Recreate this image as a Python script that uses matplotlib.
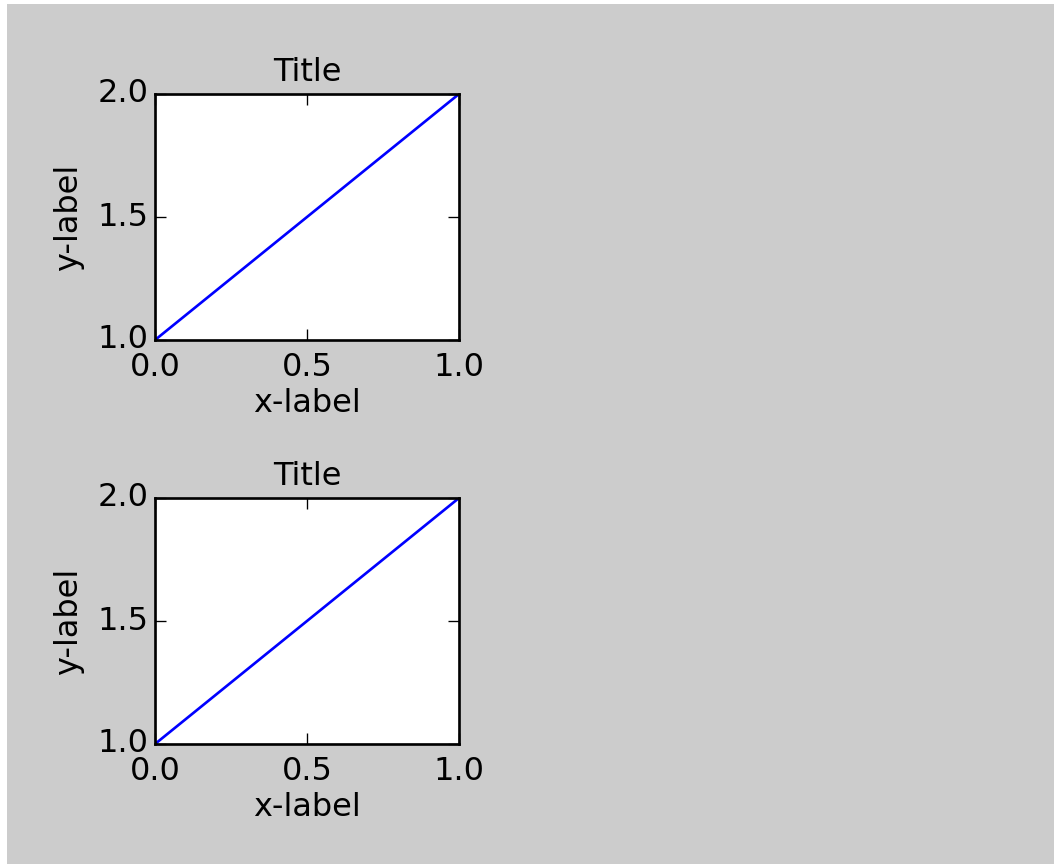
import matplotlib
matplotlib.use("Agg")
import matplotlib.pyplot as plt
from matplotlib.patches import Rectangle

plt.style.use("classic")

x_values = [0.0, 1.0]
y_values = [1.0, 2.0]
x_ticks = [0.0, 0.5, 1.0]
y_ticks = [1.0, 1.5, 2.0]
title_text = "Title"
xlabel_text = "x-label"
ylabel_text = "y-label"

W, H = 1054, 864
DPI = 192
fig = plt.figure(figsize=(W / DPI, H / DPI), dpi=DPI)
fig.patch.set_facecolor("white")
fig.patches.append(Rectangle((7 / W, 0), 1 - 7 / W, (H - 4) / H,
                             transform=fig.transFigure, facecolor="#cccccc",
                             edgecolor="none", zorder=-10))

positions = [
    [155 / W, (H - 340) / H, 304 / W, 246 / H],
    [155 / W, (H - 744) / H, 304 / W, 246 / H],
]
for pos in positions:
    ax = fig.add_axes(pos)
    ax.plot(x_values, y_values, color="b")
    ax.set_xlim(0, 1)
    ax.set_ylim(1, 2)
    ax.set_xticks(x_ticks)
    ax.set_yticks(y_ticks)
    ax.set_xticklabels([f"{v:.1f}" for v in x_ticks])
    ax.set_yticklabels([f"{v:.1f}" for v in y_ticks])
    ax.tick_params(axis="y", pad=2.5)
    ax.tick_params(axis="x", pad=4.5)
    ax.set_title(title_text, fontsize=12)
    ax.set_xlabel(xlabel_text, labelpad=2.0)
    ax.set_ylabel(ylabel_text)

fig.savefig("out.png", dpi=DPI, facecolor=fig.get_facecolor())
